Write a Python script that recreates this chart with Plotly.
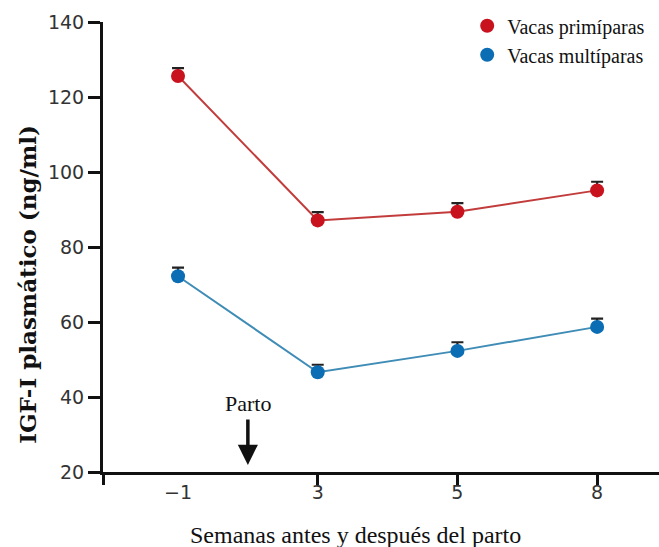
import plotly.graph_objects as go

# Data
weeks = ["\u22121", "3", "5", "8"]
pos = [0, 1, 2, 3]
primiparas = [125.6, 87.1, 89.4, 95.1]
primiparas_err = [2.1, 2.2, 2.3, 2.3]
multiparas = [72.2, 46.6, 52.3, 58.7]
multiparas_err = [2.3, 2.0, 2.3, 2.2]
yticks = [20, 40, 60, 80, 100, 120, 140]

RED = "#c8121e"
RED_LINE = "#c23c3c"
BLUE = "#0b6db3"
BLUE_LINE = "#3f8cb6"

x_left = -0.537
x_right = 3.443

fig = go.Figure()

for name, vals, errs, mcol, lcol in [
    ("Vacas primíparas", primiparas, primiparas_err, RED, RED_LINE),
    ("Vacas multíparas", multiparas, multiparas_err, BLUE, BLUE_LINE),
]:
    fig.add_trace(go.Scatter(
        x=pos, y=vals, mode="lines+markers", showlegend=False,
        line=dict(color=lcol, width=2),
        marker=dict(color=mcol, size=14),
        error_y=dict(type="data", symmetric=False, array=errs,
                     arrayminus=[0] * len(errs), color="#222222",
                     thickness=2.2, width=6),
    ))
    fig.add_trace(go.Scatter(
        x=[None], y=[None], mode="markers", name=name,
        marker=dict(color=mcol, size=14),
    ))

# invisible trace to activate xaxis2
fig.add_trace(go.Scatter(x=[None], y=[None], xaxis="x2", showlegend=False))

fig.add_annotation(x=0.5, y=38.4, text="Parto", showarrow=False,
                   font=dict(family="Liberation Serif", size=22, color="#111"))
fig.add_annotation(x=0.5, y=21.9, ax=0.5, ay=34.4, axref="x", ayref="y",
                   text="", showarrow=True, arrowhead=2, arrowsize=1.15,
                   arrowwidth=3.5, arrowcolor="#111")

# axis titles
fig.add_annotation(xref="paper", yref="paper", x=0.455, y=-0.14,
                   xanchor="center", yanchor="middle", showarrow=False,
                   text="Semanas antes y después del parto",
                   font=dict(family="Liberation Serif", size=24, color="#111"))
fig.add_annotation(xref="paper", yref="paper", x=-0.135, y=0.418,
                   xanchor="center", yanchor="middle", showarrow=False,
                   textangle=-90, text="<b>IGF-I plasmático (ng/ml)</b>",
                   font=dict(family="DejaVu Serif", size=23, color="#111"))

fig.update_layout(
    width=659, height=547,
    margin=dict(l=103, r=0, t=22, b=75),
    plot_bgcolor="white", paper_bgcolor="white",
    xaxis=dict(
        range=[x_left, x_right], tickvals=pos, ticktext=weeks,
        ticks="outside", ticklen=1, tickcolor="rgba(0,0,0,0)",
        showline=True, linecolor="#111", linewidth=3, showgrid=False,
        zeroline=False,
        tickfont=dict(family="DejaVu Sans", size=19, color="#333"),
    ),
    xaxis2=dict(
        range=[x_left, x_right], overlaying="x", anchor="y",
        tickvals=[x_left] + pos[1:], showticklabels=False,
        ticks="outside", ticklen=12, tickwidth=2.5, tickcolor="#111",
        showline=False, showgrid=False, zeroline=False,
    ),
    yaxis=dict(
        range=[20, 140], tickvals=yticks,
        ticks="outside", ticklen=12, tickwidth=2.5, tickcolor="#111",
        showline=True, linecolor="#111", linewidth=3, showgrid=False,
        zeroline=False,
        tickfont=dict(family="DejaVu Sans", size=19, color="#333"),
    ),
    legend=dict(x=0.655, y=1.035, xanchor="left", yanchor="top",
                bgcolor="rgba(0,0,0,0)",
                font=dict(family="Liberation Serif", size=20, color="#111")),
)

fig.write_html("out.html")
